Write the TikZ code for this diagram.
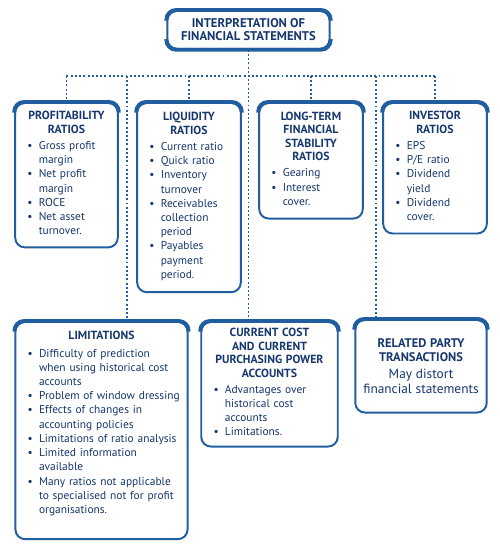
\documentclass[tikz,border=0pt]{standalone}
\usepackage{fontspec}
\setmainfont{PT Sans}
\usepackage{xcolor}

\definecolor{navy}{RGB}{22,55,110}
\definecolor{edge}{RGB}{32,94,160}

\begin{document}
\begin{tikzpicture}[
    x=0.02cm, y=-0.02cm,
    block/.style={
        draw=edge, fill=white, line width=1.1pt, rounded corners=5.5pt,
        anchor=north, inner xsep=3pt, inner ysep=0pt,
        text=navy, font=\fontsize{6.5}{8.1}\selectfont
    },
    rim/.style={draw=edge, line width=2.2pt, rounded corners=5.5pt},
    link/.style={draw=edge, line width=1.1pt, dash pattern=on 1.1pt off 1.3pt}
]
\useasboundingbox (0,0) rectangle (500,549);

% title
\node[block, align=center, minimum width=92.4pt, minimum height=21.5pt,
      font=\fontsize{7.2}{7.6}\selectfont\bfseries] (top) at (248.5,10)
    {INTERPRETATION OF\\FINANCIAL STATEMENTS};

% ratio boxes
\node[block, text width=52.4pt, minimum height=82.2pt] (prof) at (66.5,102) {%
    {\centering\fontsize{6.7}{7.7}\selectfont\bfseries PROFITABILITY\\RATIOS\par}\vspace{1pt}
    \noindent\hspace*{4pt}\begin{tabular}[t]{@{}l@{\hspace{3.5pt}}l@{}}
    \textbullet & Gross profit\\ & margin\\
    \textbullet & Net profit\\ & margin\\
    \textbullet & ROCE\\
    \textbullet & Net asset\\ & turnover.
    \end{tabular}};
\node[block, text width=53pt, minimum height=107.7pt] (liq) at (189,102) {%
    {\centering\fontsize{6.7}{7.7}\selectfont\bfseries LIQUIDITY\\RATIOS\par}\vspace{1pt}
    \noindent\hspace*{4pt}\begin{tabular}[t]{@{}l@{\hspace{3.5pt}}l@{}}
    \textbullet & Current ratio\\
    \textbullet & Quick ratio\\
    \textbullet & Inventory\\ & turnover\\
    \textbullet & Receivables\\ & collection\\ & period\\
    \textbullet & Payables\\ & payment\\ & period.
    \end{tabular}};
\node[block, text width=53pt, minimum height=65.8pt] (long) at (311,102) {%
    {\centering\fontsize{6.7}{7.7}\selectfont\bfseries LONG-TERM\\FINANCIAL\\STABILITY\\RATIOS\par}\vspace{1pt}
    \noindent\hspace*{4pt}\begin{tabular}[t]{@{}l@{\hspace{3.5pt}}l@{}}
    \textbullet & Gearing\\
    \textbullet & Interest\\ & cover.
    \end{tabular}};
\node[block, text width=53pt, minimum height=74.3pt] (inv) at (435,102) {%
    {\centering\fontsize{6.7}{7.7}\selectfont\bfseries INVESTOR\\RATIOS\par}\vspace{1pt}
    \noindent\hspace*{4pt}\begin{tabular}[t]{@{}l@{\hspace{3.5pt}}l@{}}
    \textbullet & EPS\\
    \textbullet & P/E ratio\\
    \textbullet & Dividend\\ & yield\\
    \textbullet & Dividend\\ & cover.
    \end{tabular}};

% lower boxes
\node[block, text width=92pt, minimum height=123.6pt] (lim) at (101.5,321) {%
    {\centering\fontsize{6.7}{7.7}\selectfont\bfseries LIMITATIONS\par}\vspace{2pt}
    \noindent\hspace*{4pt}\begin{tabular}[t]{@{}l@{\hspace{3.5pt}}l@{}}
    \textbullet & Difficulty of prediction\\ & when using historical cost\\ & accounts\\
    \textbullet & Problem of window dressing\\
    \textbullet & Effects of changes in\\ & accounting policies\\
    \textbullet & Limitations of ratio analysis\\
    \textbullet & Limited information\\ & available\\
    \textbullet & Many ratios not applicable\\ & to specialised not for profit\\ & organisations.\\[7pt]
    \end{tabular}};
\node[block, text width=71.7pt, minimum height=70.9pt] (cur) at (269.5,321) {%
    {\centering\fontsize{6.7}{7.7}\selectfont\bfseries CURRENT COST\\AND CURRENT\\PURCHASING POWER\\ACCOUNTS\par}\vspace{1pt}
    \noindent\hspace*{4pt}\begin{tabular}[t]{@{}l@{\hspace{3.5pt}}l@{}}
    \textbullet & Advantages over\\ & historical cost\\ & accounts\\
    \textbullet & Limitations.
    \end{tabular}};
\node[block, text width=68.8pt, minimum height=52.7pt] (rel) at (421,319) {%
    {\centering\fontsize{7.1}{7.9}\selectfont\bfseries RELATED PARTY\\TRANSACTIONS\par}\vspace{1pt}
    {\centering\fontsize{7.6}{8.5}\selectfont May distort\\\mbox{financial statements}\par}};

% heavier top edges
\foreach \n in {top,prof,liq,long,inv,lim,cur,rel}
    \draw[rim] ([yshift=-6pt]\n.north west) -- (\n.north west) -- (\n.north east) -- ([yshift=-6pt]\n.north east);
\draw[rim] ([yshift=6pt]top.south west) -- (top.south west) -- (top.south east) -- ([yshift=6pt]top.south east);

% dotted connectors
\coordinate (bus) at (0,76);
\coordinate (limdrop) at (127,76);
\coordinate (reldrop) at (376,76);
\draw[link] (prof.north |- bus) -- (inv.north |- bus);
\draw[link] (top.south) -- (top.south |- cur.north);
\foreach \n in {prof,liq,long,inv}
    \draw[link] (\n.north |- bus) -- (\n.north);
\draw[link] (limdrop) -- (limdrop |- lim.north);
\draw[link] (reldrop) -- (reldrop |- rel.north);
\end{tikzpicture}
\end{document}
